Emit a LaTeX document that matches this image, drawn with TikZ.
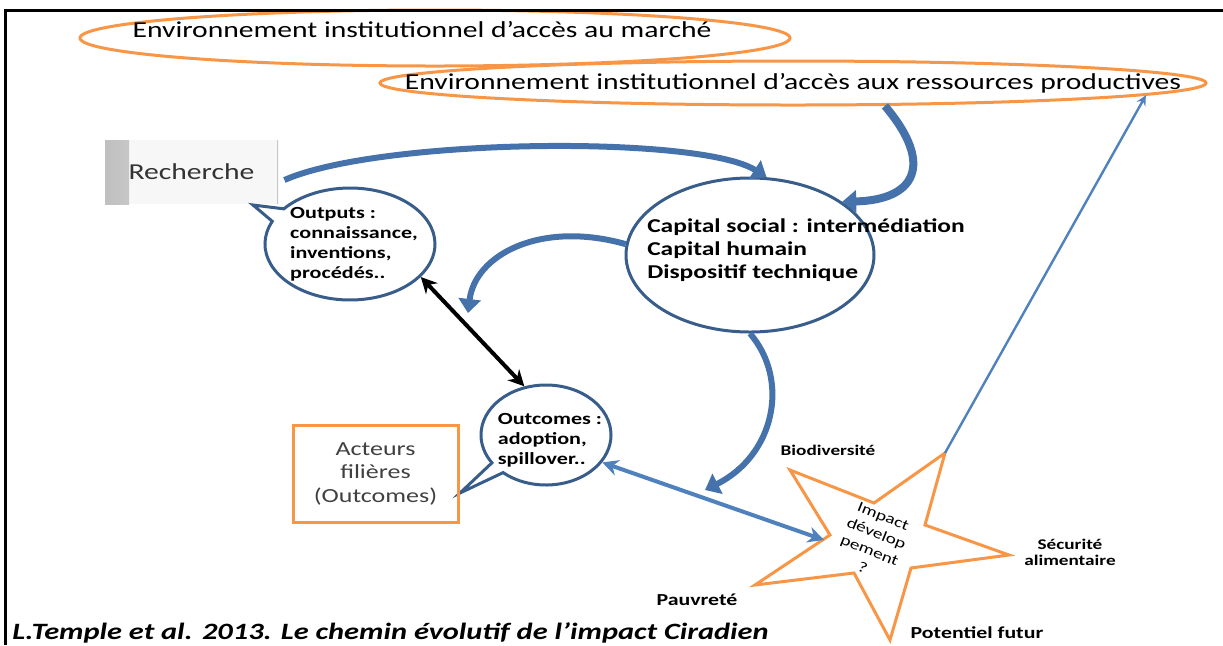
\documentclass[tikz,border=0pt]{standalone}
\usepackage{fontspec}
\setmainfont{Carlito}[FakeStretch=1.3]
\usepackage{xcolor}
\usetikzlibrary{calc, shapes.geometric, shapes.callouts, arrows.meta}

\definecolor{bleu}{RGB}{56,93,138}
\definecolor{bleuclair}{RGB}{79,129,189}
\definecolor{bleufleche}{RGB}{70,114,172}
\definecolor{orangec}{RGB}{247,150,70}
\definecolor{grisfonce}{RGB}{64,64,64}

\begin{document}
\begin{tikzpicture}[x = 0.5pt, y = -0.5pt,
		envellipse/.style = {ellipse, draw = orangec, line width = 1.5pt, inner sep = 0pt},
		envtexte/.style = {font = \fontsize{11.4}{13}\selectfont, inner sep = 0pt},
		bulle/.style = {ellipse callout, draw = bleu, line width = 1.5pt, fill = white, inner sep = 0pt},
		bulletexte/.style = {align = left, font = \bfseries\fontsize{8.5}{10}\selectfont, inner sep = 0pt},
		etiquette/.style = {align = center, font = \bfseries\fontsize{7.4}{8}\selectfont},
		fleche/.style = {draw = bleufleche, line width = 3pt, -{Triangle[length = 7pt, width = 11pt]}},
		doublenoire/.style = {draw = black, line width = 2pt, {Stealth[length = 8pt, width = 8pt]}-{Stealth[length = 8pt, width = 8pt]}},
		doublebleue/.style = {draw = bleuclair, line width = 2pt, {Stealth[length = 8pt, width = 8pt]}-{Stealth[length = 8pt, width = 8pt]}}]
		
		\useasboundingbox (0,0) rectangle (1223,645);
		
		\node [envellipse, minimum width = 355pt, minimum height = 28pt, label = {[envtexte, xshift = -6.5pt, yshift = 4pt]center:Environnement institutionnel d’accès au marché}] (marche) at (435,38) {};
		\node [envellipse, fill = white, minimum width = 413pt, minimum height = 22pt, label = {[envtexte]center:Environnement institutionnel d’accès aux ressources productives}] (ressources) at (793,83) {};
		
		\node [minimum width = 86.5pt, minimum height = 32pt, fill = gray!6, font = \fontsize{11.4}{13}\selectfont, text = black!80,
			path picture = {\shade [left color = gray!50, right color = gray!6] (path picture bounding box.south west) rectangle ([xshift = 12pt]path picture bounding box.north west);
				\draw [gray!45, line width = 1pt] (path picture bounding box.south east) -- (path picture bounding box.north east);}] (recherche) at (191.5,172) {Recherche};
		
		\node [bulle, minimum width = 85pt, minimum height = 56pt, callout absolute pointer = {(253,205)}, label = {[bulletexte, xshift = 2pt]center:{Outputs :\\connaissance,\\inventions,\\procédés..}}] (outputs) at (350,244) {};
		\node [bulle, minimum width = 65pt, minimum height = 50pt, callout absolute pointer = {(460,493)}, label = {[bulletexte, xshift = 2pt, yshift = -2.5pt]center:{Outcomes :\\adoption,\\spillover..}}] (outcomes) at (546,435) {};
		
		\node [ellipse, draw = bleu, line width = 1.5pt, minimum width = 124pt, minimum height = 77pt] (capital) at (750,255) {};
		\node [align = left, font = \bfseries\fontsize{9.8}{11.5}\selectfont] (capitaltexte) at (806,250) {Capital social : intermédiation\\Capital humain\\Dispositif technique};
		
		\node [draw = orangec, line width = 1.5pt, minimum width = 82.5pt, minimum height = 48.5pt, align = center, text = grisfonce, font = \fontsize{10}{11.75}\selectfont] (acteurs) at (375.5,473.5) {Acteurs\\filières\\(Outcomes)};
		
		\coordinate (p1) at (790,470);
		\coordinate (i1) at (874,503);
		\coordinate (p2) at (945,453);
		\coordinate (i2) at (925,525);
		\coordinate (p3) at (1009,555);
		\coordinate (i3) at (911,568);
		\coordinate (p4) at (890,640);
		\coordinate (i4) at (854,573);
		\coordinate (p5) at (755,585);
		\coordinate (i5) at (830,535);
		\draw [orangec, fill = white, line width = 1.5pt] (p1) -- (i1) -- (p2) -- (i2) -- (p3) -- (i3) -- (p4) -- (i4) -- (p5) -- (i5) -- cycle;
		\node [rotate = -22, align = center, inner sep = 0pt, font = \fontsize{7.4}{9.2}\selectfont] (impact) at (873,542) {Impact\\dévelop\\pement\\?};
		\coordinate (etoile) at (824,540);
		
		\node [etiquette] (biodiversite) at (828,450) {Biodiversité};
		\node [etiquette] (securite) at (1070,552) {Sécurité\\alimentaire};
		\node [etiquette, font = \bfseries\fontsize{8.4}{9}\selectfont] (pauvrete) at (697,600) {Pauvreté};
		\node [etiquette, font = \bfseries\fontsize{8.4}{9}\selectfont] (potentiel) at (977,633) {Potentiel futur};
		\node [anchor = west, inner sep = 0pt, font = \bfseries\itshape\fontsize{11.7}{14}\selectfont] (source) at (12,633) {L.Temple et al. 2013. Le chemin évolutif de l’impact Ciradien};
		
		\coordinate (finc) at (468,313);
		\coordinate (find) at (705,490);
		
		\draw [fleche] ($(recherche.east)+(6,8)$) .. controls (380,138) and (700,135) .. (capital.78);
		\draw [fleche, line width = 4pt] (ressources.-14) .. controls (935,165) and (915,200) .. (capital.30);
		\draw [fleche] (capital.175) .. controls (540,220) and (475,255) .. (finc);
		\draw [fleche] (capital.south) .. controls (790,380) and (775,455) .. (find);
		
		\draw [doublenoire] (outputs.-25) -- (outcomes.114);
		\draw [doublebleue] (outcomes.-26) -- (etoile);
		\draw [bleuclair, line width = 1.2pt, -stealth] (p2) -- (ressources.-2.6);
		
		\draw [line width = 1.5pt] (5,645) -- (5,10) -- (1223,10);
	\end{tikzpicture}
\end{document}
